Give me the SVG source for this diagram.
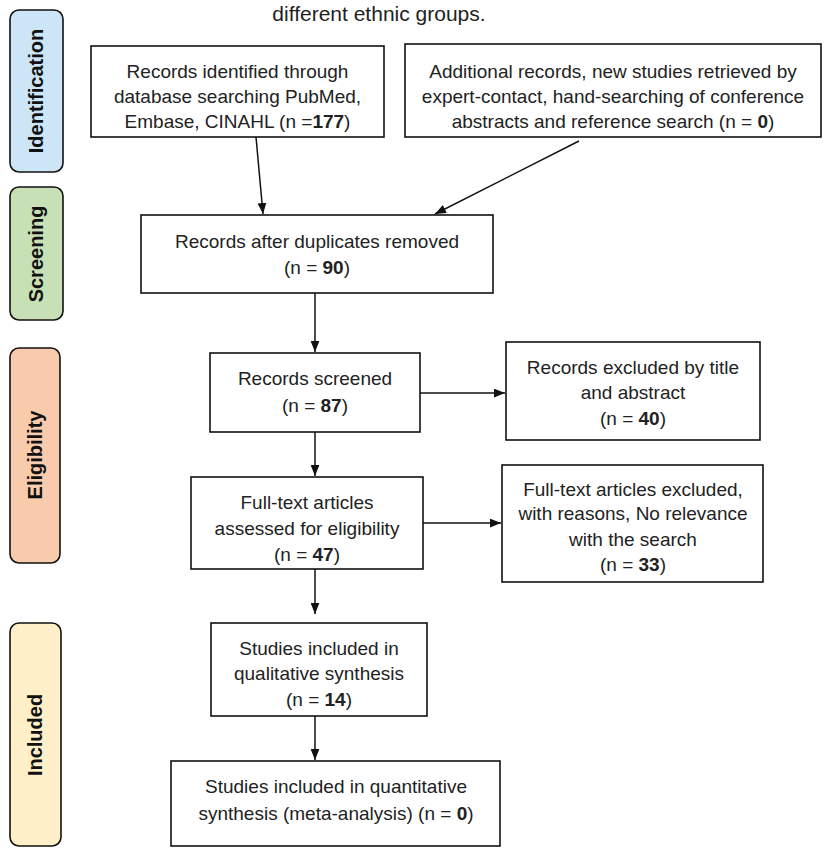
<svg xmlns="http://www.w3.org/2000/svg" width="829" height="850" viewBox="0 0 829 850">
<defs>
<marker id="ah" viewBox="0 0 10 8" refX="10" refY="4" markerWidth="11" markerHeight="9" markerUnits="userSpaceOnUse" orient="auto">
<path d="M0,0 L10,4 L0,8 z" fill="#111"/>
</marker>
<style>
.box{fill:#fff;stroke:#111;stroke-width:1.6}
.stage{stroke:#111;stroke-width:1.6}
.t{font-family:"Liberation Sans",Arial,sans-serif;font-size:19px;fill:#222;text-anchor:middle}
.st{font-family:"Liberation Sans",Arial,sans-serif;font-size:20px;font-weight:bold;fill:#111;text-anchor:middle}
.b{font-weight:bold}
.c{fill:none;stroke:#111;stroke-width:1.5;marker-end:url(#ah)}
</style>
</defs>
<rect width="829" height="850" fill="#fff"/>
<text class="t" x="379" y="21" style="font-size:21px">different ethnic groups.</text>

<g id="stage-identification">
<rect class="stage" x="10" y="10" width="53" height="162" rx="9" fill="#cce5f7"/>
<text class="st" transform="translate(43,91) rotate(-90)">Identification</text>
</g>
<g id="stage-screening">
<rect class="stage" x="10" y="187" width="53" height="133" rx="9" fill="#c8e0b6"/>
<text class="st" transform="translate(43,254) rotate(-90)">Screening</text>
</g>
<g id="stage-eligibility">
<rect class="stage" x="10" y="348" width="50" height="215" rx="9" fill="#f8cbad"/>
<text class="st" transform="translate(42,455) rotate(-90)">Eligibility</text>
</g>
<g id="stage-included">
<rect class="stage" x="10" y="623" width="51" height="223" rx="9" fill="#fff0c9"/>
<text class="st" transform="translate(42,735) rotate(-90)">Included</text>
</g>

<g id="node-identified">
<rect class="box" x="91" y="46" width="293" height="91"/>
<text class="t" x="237.5" y="78">Records identified through</text>
<text class="t" x="237.5" y="103">database searching PubMed,</text>
<text class="t" x="237.5" y="128">Embase, CINAHL (n =<tspan class="b">177</tspan>)</text>
</g>
<g id="node-additional">
<rect class="box" x="405" y="44" width="416" height="93"/>
<text class="t" x="613" y="78">Additional records, new studies retrieved by</text>
<text class="t" x="613" y="103">expert-contact, hand-searching of conference</text>
<text class="t" x="613" y="128">abstracts and reference search (n = <tspan class="b">0</tspan>)</text>
</g>
<g id="node-duplicates">
<rect class="box" x="141" y="215" width="352" height="78"/>
<text class="t" x="317" y="248">Records after duplicates removed</text>
<text class="t" x="317" y="274">(n = <tspan class="b">90</tspan>)</text>
</g>
<g id="node-screened">
<rect class="box" x="210" y="353" width="210" height="79"/>
<text class="t" x="315" y="385">Records screened</text>
<text class="t" x="315" y="412">(n = <tspan class="b">87</tspan>)</text>
</g>
<g id="node-excluded-title">
<rect class="box" x="506" y="342" width="254" height="98"/>
<text class="t" x="633" y="374">Records excluded by title</text>
<text class="t" x="633" y="399">and abstract</text>
<text class="t" x="633" y="425">(n = <tspan class="b">40</tspan>)</text>
</g>
<g id="node-fulltext">
<rect class="box" x="191" y="477" width="232" height="92"/>
<text class="t" x="307" y="509">Full-text articles</text>
<text class="t" x="307" y="535">assessed for eligibility</text>
<text class="t" x="307" y="561">(n = <tspan class="b">47</tspan>)</text>
</g>
<g id="node-fulltext-excluded">
<rect class="box" x="502" y="465" width="261" height="117"/>
<text class="t" x="633" y="496">Full-text articles excluded,</text>
<text class="t" x="633" y="520">with reasons, No relevance</text>
<text class="t" x="633" y="546">with the search</text>
<text class="t" x="633" y="571">(n = <tspan class="b">33</tspan>)</text>
</g>
<g id="node-qualitative">
<rect class="box" x="211" y="623" width="216" height="93"/>
<text class="t" x="319" y="655">Studies included in</text>
<text class="t" x="319" y="680">qualitative synthesis</text>
<text class="t" x="319" y="706">(n = <tspan class="b">14</tspan>)</text>
</g>
<g id="node-quantitative">
<rect class="box" x="171" y="761" width="329" height="85"/>
<text class="t" x="336" y="793">Studies included in quantitative</text>
<text class="t" x="336" y="820">synthesis (meta-analysis) (n = <tspan class="b">0</tspan>)</text>
</g>

<g id="connectors">
<line class="c" x1="256" y1="137" x2="263" y2="214"/>
<line class="c" x1="579" y1="141" x2="435" y2="214"/>
<line class="c" x1="315" y1="293" x2="315" y2="352"/>
<line class="c" x1="315" y1="432" x2="315" y2="476"/>
<line class="c" x1="420" y1="393" x2="505" y2="393"/>
<line class="c" x1="423" y1="523" x2="501" y2="523"/>
<line class="c" x1="315" y1="569" x2="315" y2="614"/>
<line class="c" x1="315" y1="716" x2="315" y2="760"/>
</g>
</svg>
